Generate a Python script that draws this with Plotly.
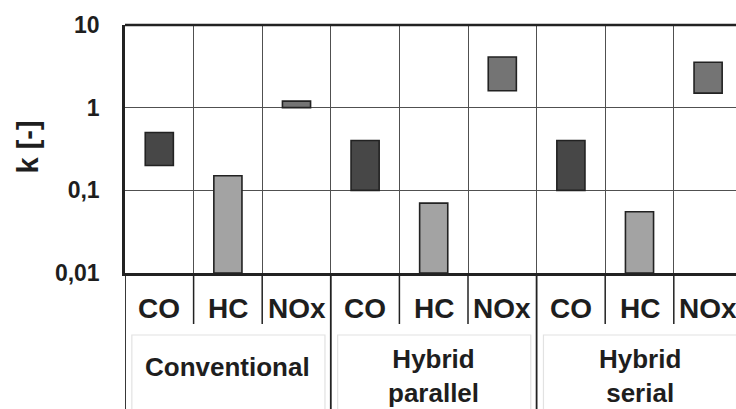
import plotly.graph_objects as go

# ---- data ----
groups = ["Conventional", "Hybrid<br>parallel", "Hybrid<br>serial"]
pollutants = ["CO", "HC", "NOx"]
co_low = [0.2, 0.1, 0.1]
co_high = [0.5, 0.4, 0.4]
hc_low = [0.01, 0.01, 0.01]
hc_high = [0.15, 0.07, 0.055]
nox_low = [1.0, 1.6, 1.5]
nox_high = [1.2, 4.1, 3.55]
y_tickvals = [0.01, 0.1, 1, 10]
y_ticktext = ["0,01", "0,1", "1", "10"]

colors = {"CO": "#474747", "HC": "#a3a3a3", "NOx": "#747474"}
series = {"CO": (co_low, co_high), "HC": (hc_low, hc_high), "NOx": (nox_low, nox_high)}

W, H = 736, 409
ML, MT, MB = 125, 25, 136
plot_h = H - MT - MB
col_w = 68.6
x_max = -0.5 + (W - ML) / col_w

FONT = "Arial, Liberation Sans, sans-serif"
TXT = "#1e1e1e"

fig = go.Figure()
npol = len(pollutants)
for j, p in enumerate(pollutants):
    lo, hi = series[p]
    xs = [g * npol + j for g in range(len(groups))]
    fig.add_trace(go.Bar(
        x=xs, y=[h - l for l, h in zip(lo, hi)], base=lo,
        width=0.41, name=p,
        marker=dict(color=colors[p], line=dict(color="#222222", width=1.6)),
        showlegend=False,
    ))

n_cols = len(groups) * npol
boundaries = [i - 0.5 for i in range(n_cols + 1)]

def py(px):
    return (MT + plot_h - px) / plot_h

shapes = []
# sub-category dividers below the plot
for i in range(1, n_cols):
    if i % npol != 0:
        shapes.append(dict(type="line", xref="x", yref="paper", x0=i - 0.5, x1=i - 0.5,
                           y0=0, y1=py(324), line=dict(color="#222222", width=1.5)))
# group dividers
for g in range(len(groups)):
    xg = g * npol - 0.5
    shapes.append(dict(type="line", xref="x", yref="paper", x0=xg, x1=xg,
                       y0=0, y1=py(412), line=dict(color="#222222", width=1.8)))
    # faint label box
    shapes.append(dict(type="rect", xref="x", yref="paper", x0=xg + 0.1, x1=xg + npol - 0.085,
                       y0=py(335), y1=py(415), line=dict(color="#e2e2e2", width=1.2)))
# top border
shapes.append(dict(type="line", xref="paper", yref="paper", x0=0, x1=1, y0=1, y1=1,
                   line=dict(color="#222222", width=2.5)))

annotations = []
for i in range(n_cols):
    annotations.append(dict(x=i, y=py(308), xref="x", yref="paper", text=pollutants[i % npol],
                            showarrow=False, yanchor="middle", xanchor="center",
                            font=dict(family=FONT, size=28, color=TXT, weight="bold")))
for g, name in enumerate(groups):
    cy = 367 if "<br>" not in name else 376
    annotations.append(dict(x=g * npol + 1, y=py(cy), xref="x", yref="paper", text=name,
                            showarrow=False, yanchor="middle", xanchor="center",
                            font=dict(family=FONT, size=26, color=TXT, weight="bold")))
annotations.append(dict(x=(27.5 - ML) / (W - ML), y=py(147), xref="paper", yref="paper",
                        text="k [-]", textangle=-90, showarrow=False,
                        xanchor="center", yanchor="middle",
                        font=dict(family=FONT, size=29, color=TXT, weight="bold")))

fig.update_layout(
    width=W, height=H, margin=dict(l=ML, r=0, t=MT, b=MB),
    paper_bgcolor="white", plot_bgcolor="white",
    barmode="overlay", shapes=shapes, annotations=annotations,
    xaxis=dict(range=[-0.5, x_max], showticklabels=False, ticks="", showgrid=False,
               zeroline=False, showline=True, linecolor="#222222", linewidth=2.5,
               minor=dict(tickvals=boundaries, showgrid=True, gridcolor="#505050", gridwidth=1, ticks="")),
    yaxis=dict(type="log", range=[-2, 1], tickvals=y_tickvals, ticktext=y_ticktext,
               showgrid=True, gridcolor="#505050", gridwidth=1, zeroline=False,
               showline=True, linecolor="#222222", linewidth=2.5, ticks="",
               ticklabelstandoff=18,
               tickfont=dict(family=FONT, size=23, color=TXT, weight="bold")),
)

fig.write_html("out.html")
